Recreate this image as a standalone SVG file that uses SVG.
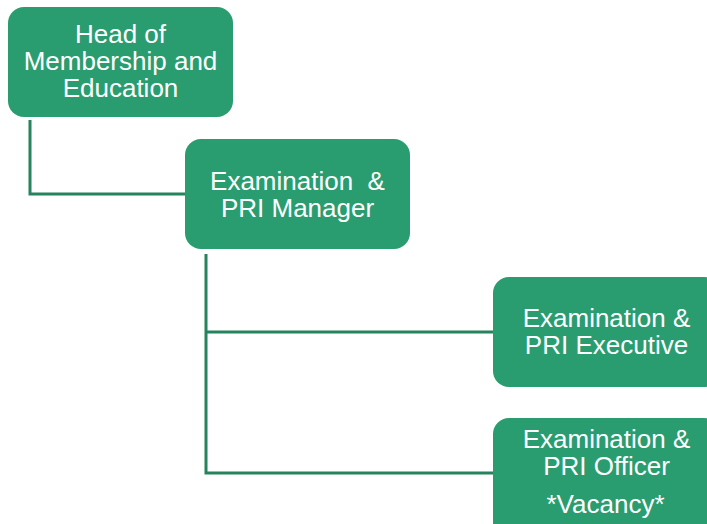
<svg xmlns="http://www.w3.org/2000/svg" width="707" height="524" viewBox="0 0 707 524">
<style>
.node{fill:#2a9d70;}
.t{font-family:"Liberation Sans",Arial,sans-serif;font-size:26px;fill:#ffffff;text-anchor:middle;}
.c{fill:none;stroke:#24845d;stroke-width:3;}
</style>
<rect width="707" height="524" fill="#ffffff"/>
<g id="connectors">
<polyline class="c" points="30,120 30,194 186,194"/>
<polyline class="c" points="206,254 206,473 493,473"/>
<line class="c" x1="206" y1="332" x2="493" y2="332"/>
</g>
<g id="head">
<rect class="node" x="8" y="7" width="225" height="110" rx="16"/>
<text class="t" x="120.5" y="43">Head of</text>
<text class="t" x="120.5" y="70">Membership and</text>
<text class="t" x="120.5" y="97">Education</text>
</g>
<g id="manager">
<rect class="node" x="185" y="139" width="225" height="110" rx="16"/>
<text class="t" x="297.5" y="190" xml:space="preserve">Examination  &amp;</text>
<text class="t" x="297.5" y="217">PRI Manager</text>
</g>
<g id="executive">
<rect class="node" x="493" y="277" width="227" height="110" rx="16"/>
<text class="t" x="606.5" y="327">Examination &amp;</text>
<text class="t" x="606.5" y="354">PRI Executive</text>
</g>
<g id="officer">
<rect class="node" x="493" y="418" width="227" height="120" rx="16"/>
<text class="t" x="606.5" y="448">Examination &amp;</text>
<text class="t" x="606.5" y="475">PRI Officer</text>
<text class="t" x="605.5" y="513">*Vacancy*</text>
</g>
</svg>
